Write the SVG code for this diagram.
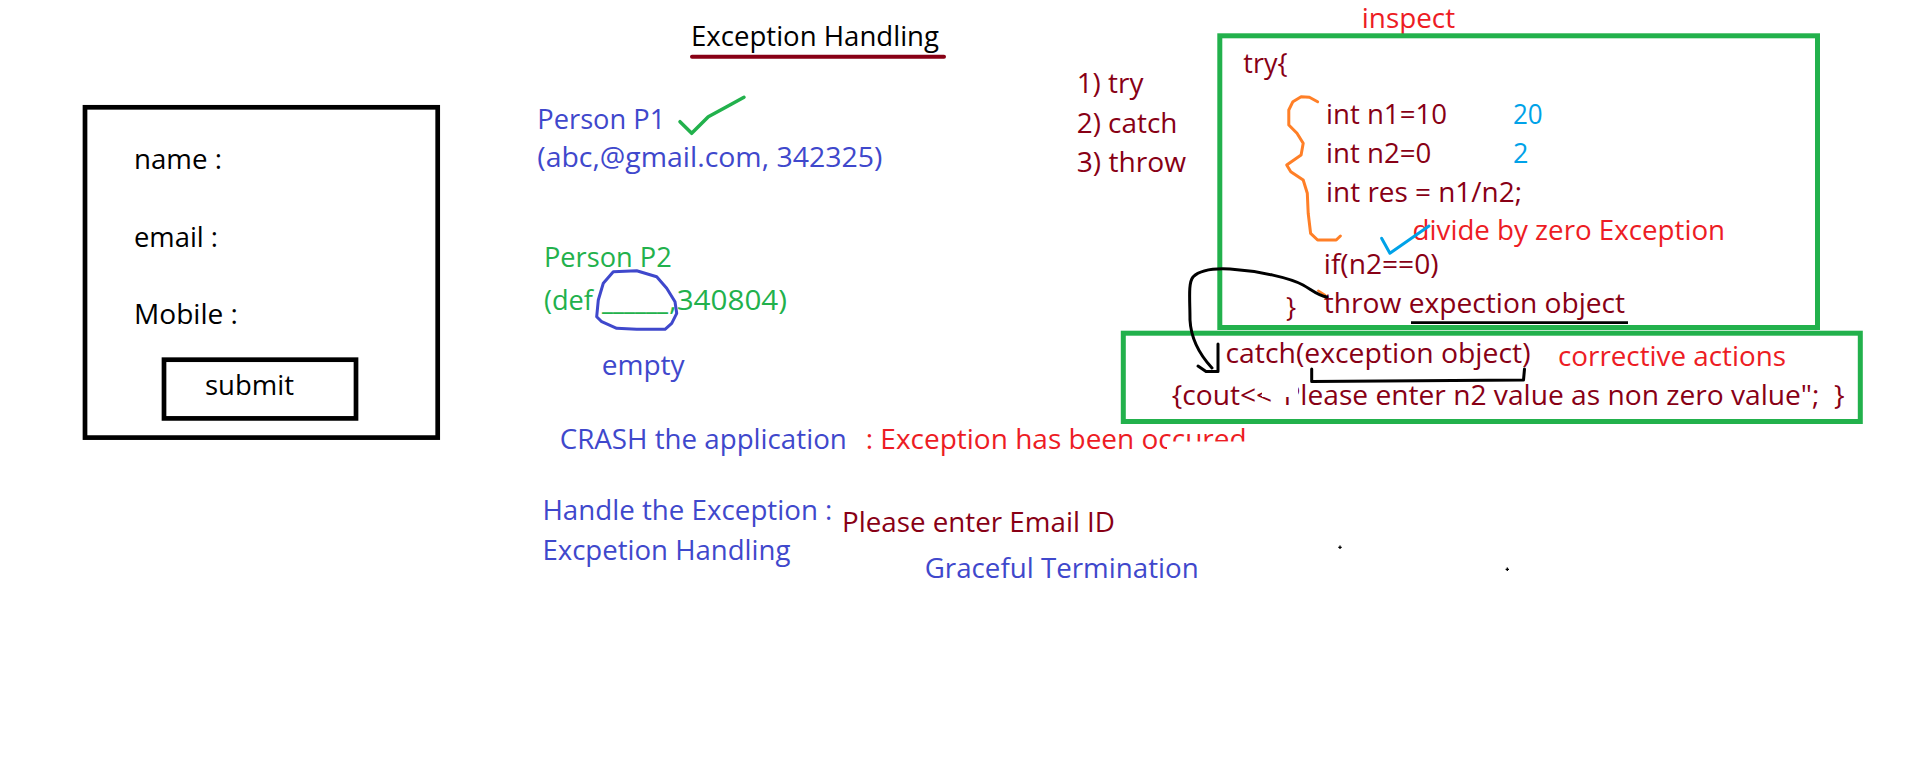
<svg xmlns="http://www.w3.org/2000/svg" width="1914" height="763" viewBox="0 0 1914 763">
<style>
text{font-family:"Open Sans","Liberation Sans",sans-serif;font-size:27px}
.k{fill:#000}.b{fill:#3F48CC}.g{fill:#22B14C}.r{fill:#ED1C24}.d{fill:#880015}.c{fill:#00A2E8}
.box{fill:none;stroke:#000;stroke-width:4.7}
.gbox{fill:none;stroke:#22B14C;stroke-width:5}
.ink{fill:none;stroke-linecap:round;stroke-linejoin:round}
</style>
<rect width="1914" height="763" fill="#fff"/>

<g id="form">
<rect class="box" x="85" y="107.3" width="352.7" height="330.3"/>
<text class="k" x="134" y="169" textLength="88" lengthAdjust="spacingAndGlyphs">name :</text>
<text class="k" x="134" y="246.7" textLength="84" lengthAdjust="spacingAndGlyphs">email :</text>
<text class="k" x="134" y="324.3" textLength="104" lengthAdjust="spacingAndGlyphs">Mobile :</text>
<g id="submit-button">
<rect class="box" x="164" y="359.7" width="192" height="58.7"/>
<text class="k" x="205" y="395" textLength="89" lengthAdjust="spacingAndGlyphs">submit</text>
</g>
</g>

<g id="title">
<text class="k" x="691" y="46" textLength="248" lengthAdjust="spacingAndGlyphs">Exception Handling</text>
<line x1="692" y1="56.7" x2="944" y2="56.7" stroke="#880015" stroke-width="4" stroke-linecap="round"/>
</g>

<g id="person-p1">
<text class="b" x="537.3" y="129.3" textLength="128" lengthAdjust="spacingAndGlyphs">Person P1</text>
<path class="ink" stroke="#22B14C" stroke-width="3.5" d="M680,121.7 L691.7,133.3 L708.3,116.7 L726.7,106.7 L744,97.3"/>
<text class="b" x="537.3" y="166.7" textLength="345" lengthAdjust="spacingAndGlyphs">(abc,@gmail.com, 342325)</text>
</g>

<g id="person-p2">
<text class="g" x="544" y="266.7" textLength="127.7" lengthAdjust="spacingAndGlyphs">Person P2</text>
<text class="g" x="544" y="310" textLength="49" lengthAdjust="spacingAndGlyphs">(def</text>
<text class="g" x="602" y="310" textLength="66" lengthAdjust="spacingAndGlyphs">______</text>
<text class="g" x="669" y="310" textLength="118" lengthAdjust="spacingAndGlyphs">,340804)</text>
<path class="ink" stroke="#3F48CC" stroke-width="3" d="M613.3,271.7 L636.7,270.7 L656.7,276.7 L666.7,288.3 L675,301.7 L676.7,313.3 L671.7,323.3 L665,329.3 L636.7,329.3 L616.7,328.3 L601.7,321.7 L596.7,316.7 L598.3,300 L603.3,283.3 Z"/>
<text class="b" x="601.7" y="375" textLength="83" lengthAdjust="spacingAndGlyphs">empty</text>
</g>

<g id="crash">
<text class="b" x="559.8" y="449.3" textLength="287" lengthAdjust="spacingAndGlyphs">CRASH the application</text>
<text class="r" x="865.7" y="449.3" textLength="381" lengthAdjust="spacingAndGlyphs">: Exception has been occured</text>
<rect x="1167" y="441.5" width="90" height="16" fill="#fff"/>
</g>

<g id="handle">
<text class="b" x="542.4" y="520" textLength="290" lengthAdjust="spacingAndGlyphs">Handle the Exception :</text>
<text class="d" x="842" y="531.7" textLength="273" lengthAdjust="spacingAndGlyphs">Please enter Email ID</text>
<text class="b" x="542.4" y="560" textLength="248" lengthAdjust="spacingAndGlyphs">Excpetion Handling</text>
<text class="b" x="924.7" y="578.3" textLength="274" lengthAdjust="spacingAndGlyphs">Graceful Termination</text>
</g>

<g id="dots" stroke="#000" stroke-width="1.3">
<path d="M1338.3,547.3 H1341.7 M1340,545.6 V549"/>
<path d="M1505.6,569.3 H1509 M1507.3,567.6 V571"/>
</g>

<g id="keywords">
<text class="d" x="1076.7" y="93.3" textLength="66.7" lengthAdjust="spacingAndGlyphs">1) try</text>
<text class="d" x="1076.7" y="133.3" textLength="100.7" lengthAdjust="spacingAndGlyphs">2) catch</text>
<text class="d" x="1076.7" y="171.7" textLength="109.3" lengthAdjust="spacingAndGlyphs">3) throw</text>
</g>

<g id="try-block">
<text class="r" x="1361.8" y="28.3" textLength="93.3" lengthAdjust="spacingAndGlyphs">inspect</text>
<rect class="gbox" x="1219.8" y="35.8" width="597.7" height="291.7"/>
<text class="d" x="1243.3" y="73.3" textLength="44.2" lengthAdjust="spacingAndGlyphs">try{</text>
<path class="ink" stroke="#FF7F27" stroke-width="3" d="M1317.6,101.7 L1309.4,97.3 L1301.1,96.7 L1292.9,101.7 L1288.8,110 L1288.8,125 L1297,133.3 L1303.2,143.3 L1301.1,155 L1286.7,165 L1290.8,171.7 L1303.2,180 L1307.3,193.3 L1308.2,213.3 L1310.6,233.3 L1317.6,240 L1336.2,240 L1340.4,236"/>
<text class="d" x="1326" y="124" textLength="121" lengthAdjust="spacingAndGlyphs">int n1=10</text>
<text class="c" x="1512.9" y="124" textLength="29.7" lengthAdjust="spacingAndGlyphs">20</text>
<text class="d" x="1326" y="163.3" textLength="105.3" lengthAdjust="spacingAndGlyphs">int n2=0</text>
<text class="c" x="1512.9" y="163.3">2</text>
<text class="d" x="1326" y="201.7" textLength="196" lengthAdjust="spacingAndGlyphs">int res = n1/n2;</text>
<text class="r" x="1412.6" y="240" textLength="312.5" lengthAdjust="spacingAndGlyphs">divide by zero Exception</text>
<path class="ink" stroke="#00A2E8" stroke-width="3" d="M1381.6,238.3 L1389.9,253.3 L1429,226"/>
<text class="d" x="1323.8" y="274" textLength="114.8" lengthAdjust="spacingAndGlyphs">if(n2==0)</text>
<path class="ink" stroke="#FF7F27" stroke-width="2.5" d="M1318.3,290.7 L1325,295"/>
<text class="d" x="1286" y="317">}</text>
<text class="d" x="1323.8" y="313.3" textLength="301.3" lengthAdjust="spacingAndGlyphs">throw expection object</text>
<line x1="1411" y1="322.6" x2="1628" y2="322.6" stroke="#000" stroke-width="2.8"/>
</g>

<g id="catch-block">
<rect class="gbox" x="1123.3" y="333.2" width="737" height="88.3"/>
<text class="d" x="1225.5" y="363.3" textLength="305" lengthAdjust="spacingAndGlyphs">catch(exception object)</text>
<path class="ink" stroke="#000" stroke-width="3" d="M1311.7,369 L1311.7,381.5 L1523.5,380 L1524.5,369"/>
<text class="r" x="1558" y="366" textLength="228" lengthAdjust="spacingAndGlyphs">corrective actions</text>
<text class="d" x="1171.7" y="405" textLength="673" lengthAdjust="spacingAndGlyphs" style="white-space:pre">{cout&lt;&lt;"Please enter n2 value as non zero value";  }</text>
<rect x="1262" y="377" width="36" height="20" fill="#fff"/>
</g>

<g id="connectors">
<path class="ink" stroke="#000" stroke-width="3" d="M1327,297 C1318,296 1312,290 1303,285 C1290,278 1260,271 1230,269 C1212,268 1200,270 1193,277 C1188,283 1190,300 1190,320 C1191,340 1200,355 1212,368"/>
<path class="ink" stroke="#000" stroke-width="3" d="M1198,366 L1206,371.5 L1218,371.5 L1218,344"/>
</g>
</svg>
